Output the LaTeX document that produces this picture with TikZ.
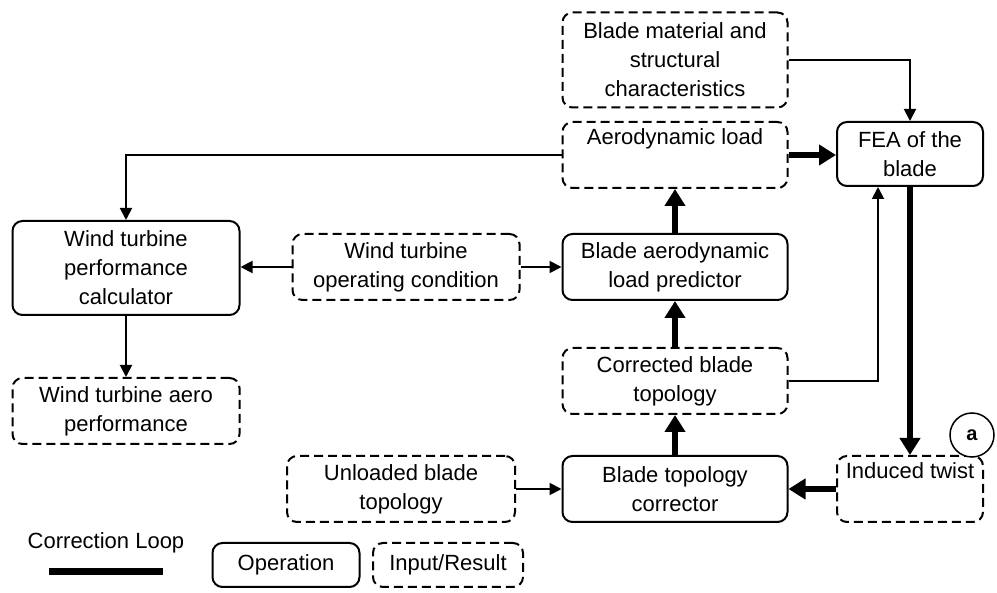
\documentclass[tikz,border=0pt]{standalone}
\usepackage{fontspec}
\setmainfont{Liberation Sans}
\usetikzlibrary{arrows.meta}
\begin{document}
\begin{tikzpicture}[x=1pt,y=-1pt,
  box/.style={draw, rounded corners=10pt, line width=2pt, align=center,
    font=\fontsize{22}{29}\selectfont, inner sep=0pt, minimum width=225pt, minimum height=66pt},
  op/.style={box},
  io/.style={box, dash pattern=on 9pt off 5pt},
  thinarr/.style={line width=1.9pt, -{Triangle[length=12pt,width=12pt]}},
  thickarr/.style={line width=6.5pt, -{Triangle[length=17pt,width=20pt]}}]
\useasboundingbox (0,0) rectangle (997,593);
% nodes
\node[io, minimum height=95pt] (mat) at (675,60) {Blade material and\\structural\\characteristics};
\node[io] (aero) at (675,155) {Aerodynamic load\\\strut};
\node[op, minimum width=146pt, minimum height=64pt] (fea) at (910,154) {FEA of the\\blade};
\node[op] (pred) at (675,267) {Blade aerodynamic\\load predictor};
\node[io, minimum width=227pt] (cond) at (406,267) {Wind turbine\\operating condition};
\node[op, minimum width=227pt, minimum height=94pt] (calc) at (126,268) {Wind turbine\\performance\\calculator};
\node[io, minimum width=227pt] (perf) at (126,411) {Wind turbine aero\\performance};
\node[io] (corr) at (675,381) {Corrected blade\\topology};
\node[io, minimum width=228pt] (unl) at (401,489) {Unloaded blade\\topology};
\node[op] (tc) at (675,489) {Blade topology\\corrector};
\node[io, minimum width=146pt] (tw) at (910,489) {Induced twist\\\strut};
\node[draw, circle, line width=1.5pt, minimum size=44pt, inner sep=0pt, fill=white,
  font=\fontsize{20}{20}\selectfont\bfseries] (a) at (972,435) {a};
% connectors
\draw[thinarr] (aero.west) -| (calc.north);
\draw[thinarr] (mat.east) -| (fea.north);
\draw[thickarr] (aero.east) -- (fea.west |- aero.east);
\draw[thickarr] (pred.north) -- (aero.south);
\draw[thickarr] (corr.north) -- (pred.south);
\draw[thickarr] (tc.north) -- (corr.south);
\draw[thickarr] (tw.west) -- (tc.east);
\draw[thickarr] (fea.south) -- (tw.north);
\draw[thinarr] (corr.east) -| ([xshift=-32pt]fea.south);
\draw[thinarr] (cond.west) -- (cond.west -| calc.east);
\draw[thinarr] (cond.east) -- (pred.west);
\draw[thinarr] (calc.south) -- (perf.north);
\draw[thinarr] (unl.east) -- (tc.west);
% legend
\node[font=\fontsize{22}{29}\selectfont] (cl) at (106,543) {Correction Loop};
\coordinate (l1) at (49,572);
\coordinate (l2) at (163,572);
\draw[line width=7pt] (l1) -- (l2);
\node[op, minimum width=147pt, minimum height=44pt] (lop) at (286,565) {Operation};
\node[io, minimum width=150pt, minimum height=44pt] (lio) at (448,565) {Input/Result};
\end{tikzpicture}
\end{document}
